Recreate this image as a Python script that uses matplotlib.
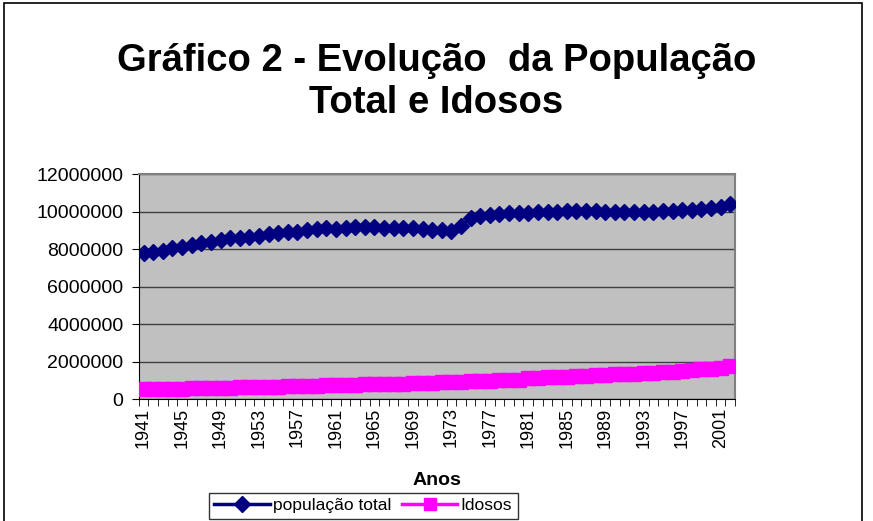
import numpy as np
import matplotlib.pyplot as plt
from matplotlib.patches import Rectangle

# dados
anos = list(range(1941, 2003))
pop_total = [7770000, 7820000, 7910000, 8040000, 8120000, 8210000, 8300000, 8390000,
             8460000, 8570000, 8610000, 8660000, 8710000, 8780000, 8840000, 8890000,
             8920000, 9000000, 9080000, 9120000, 9080000, 9130000, 9150000, 9150000,
             9150000, 9140000, 9130000, 9120000, 9100000, 9050000, 9010000, 8990000,
             8980000, 9250000, 9640000, 9760000, 9820000, 9870000, 9900000, 9930000,
             9920000, 9950000, 9980000, 10000000, 10020000, 10030000, 10020000, 10010000,
             9990000, 9970000, 9960000, 9960000, 9960000, 9990000, 10010000, 10040000,
             10070000, 10100000, 10130000, 10200000, 10260000, 10400000]
idosos = [520000, 530000, 540000, 550000, 560000, 570000, 580000, 590000,
          600000, 615000, 625000, 635000, 645000, 655000, 665000, 680000,
          690000, 700000, 715000, 730000, 745000, 755000, 765000, 780000,
          790000, 805000, 815000, 830000, 845000, 860000, 875000, 890000,
          905000, 920000, 940000, 960000, 980000, 1000000, 1020000, 1040000,
          1120000, 1140000, 1160000, 1180000, 1200000, 1225000, 1250000, 1275000,
          1300000, 1320000, 1340000, 1360000, 1380000, 1410000, 1440000, 1470000,
          1510000, 1550000, 1590000, 1630000, 1680000, 1740000]
rotulos = [str(a) for a in anos]

plt.rcParams['font.family'] = ['Liberation Sans', 'DejaVu Sans']

fig = plt.figure(figsize=(8.73, 5.21), dpi=100)
ax = fig.add_axes([0.159, 0.234, 0.683, 0.432])
ax.set_facecolor('#C0C0C0')

x = np.arange(len(anos))
ax.plot(x, pop_total, color='#000080', lw=2.5, marker='D', ms=8.5,
        label='população total', zorder=3)
ax.plot(x, idosos, color='#FF00FF', lw=2.5, marker='s', ms=9.5,
        label='Idosos', zorder=3)

ax.set_ylim(0, 12000000)
ax.set_yticks(np.arange(0, 12000001, 2000000))
ax.set_yticklabels([str(v) for v in range(0, 12000001, 2000000)], fontsize=14)
ax.yaxis.grid(True, color='#404040', lw=1)
ax.set_axisbelow(True)

ax.set_xlim(-0.5, len(anos) - 0.5)
ax.set_xticks(x[::4])
ax.set_xticklabels(rotulos[::4], rotation=90, fontsize=13)
ax.tick_params(axis='x', length=0, pad=6)
ax.set_xticks(np.arange(-0.5, len(anos), 1), minor=True)
ax.tick_params(axis='x', which='minor', length=5, direction='out', color='black')
ax.tick_params(axis='y', length=5, direction='out', pad=6)

for s in ['top', 'right']:
    ax.spines[s].set_color('#808080')
    ax.spines[s].set_linewidth(1.5)
ax.spines['left'].set_color('black')
ax.spines['bottom'].set_color('black')

fig.text(0.5, 0.843, 'Gráfico 2 - Evolução  da População\nTotal e Idosos',
         ha='center', va='center', fontsize=27.5, fontweight='bold', linespacing=1.2)
fig.text(0.5, 0.077, 'Anos', ha='center', va='center', fontsize=14, fontweight='bold')

leg = fig.legend(loc='lower center', bbox_to_anchor=(0.416, -0.012), ncol=2,
                 fontsize=12.5, frameon=True, fancybox=False, edgecolor='black',
                 handlelength=3.2, handletextpad=0.2, columnspacing=0.6,
                 borderpad=0.3, markerscale=0.9)
leg.get_frame().set_linewidth(1)

fig.patches.append(Rectangle((0.005, -0.1), 0.982, 1.094, transform=fig.transFigure,
                             fill=False, edgecolor='black', lw=1.2))

fig.savefig('out.png', dpi=100)
